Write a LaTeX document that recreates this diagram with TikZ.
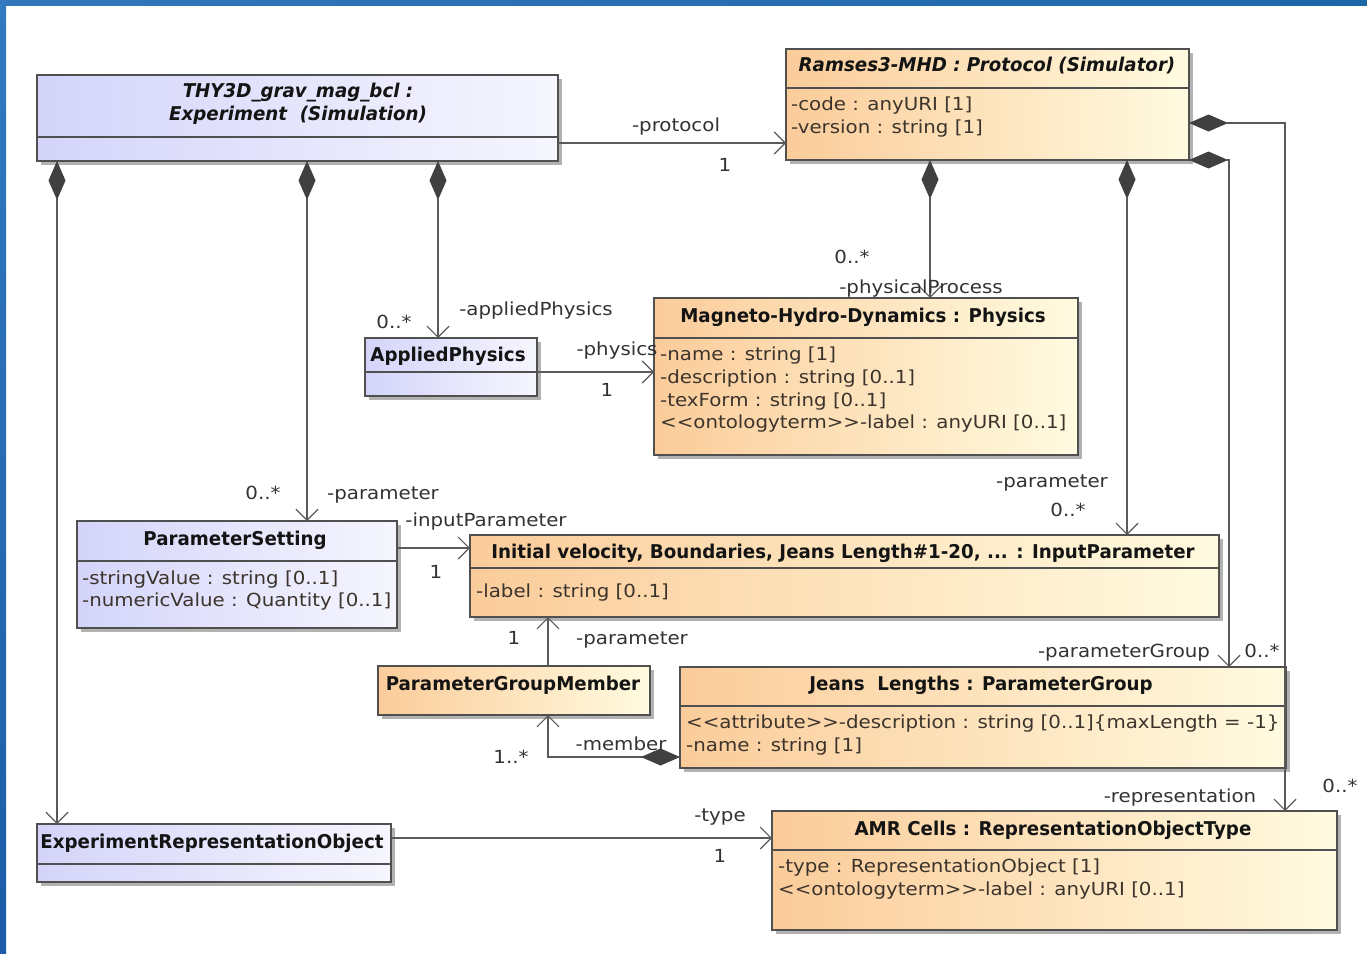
\documentclass[tikz,border=0pt]{standalone}
\usepackage{fontspec}
\setmainfont{DejaVu Sans}[FakeStretch=1.1]
\newfontfamily\ttlfont{DejaVu Sans}[FakeStretch=0.96]
\usetikzlibrary{arrows.meta}
\definecolor{lavL}{RGB}{212,212,250}
\definecolor{lavR}{RGB}{246,246,254}
\definecolor{orL}{RGB}{251,204,154}
\definecolor{orR}{RGB}{255,251,224}
\definecolor{boxc}{RGB}{80,80,80}
\definecolor{shadc}{RGB}{178,178,178}
\definecolor{linec}{RGB}{90,90,90}
\definecolor{diac}{RGB}{64,64,64}
\definecolor{ttlc}{RGB}{20,20,20}
\definecolor{attrc}{RGB}{60,52,44}
\definecolor{lblc}{RGB}{50,50,50}
\definecolor{frA}{RGB}{52,118,186}
\definecolor{frB}{RGB}{42,160,222}
\definecolor{frC}{RGB}{28,104,166}
\definecolor{frT}{RGB}{50,122,190}
\definecolor{frD}{RGB}{28,92,168}
\newcommand\lguil{<\kern0pt<}
\newcommand\rguil{>\kern0pt>}
\newcommand\umlbox[6]{%
  \fill[shadc] (#2+4,#3+4) rectangle (#4+4,#5+4);
  \node[#6, minimum width={#4pt-#2pt}, minimum height={#5pt-#3pt}, inner sep=0pt, outer sep=0pt] (#1) at ({(#2+#4)/2},{(#3+#5)/2}) {};
}
\tikzset{
  boxl/.style={draw=boxc, line width=1.3pt},
  lav/.style={boxl, left color=lavL, right color=lavR},
  org/.style={boxl, left color=orL, right color=orR},
  divl/.style={draw=boxc, line width=1.3pt},
  ttl/.style={font=\fontsize{19}{23}\selectfont\ttlfont\bfseries, text=ttlc, yshift=-2pt},
  ittl/.style={font=\fontsize{19}{23}\selectfont\ttlfont\bfseries\itshape, text=ttlc, yshift=-1pt},
  attr/.style={anchor=west, text=attrc, text height=15pt, text depth=2pt},
  lbl/.style={text=lblc, text height=15pt, text depth=2pt},
  assoc/.style={draw=linec, line width=1.2pt, -{Straight Barb[length=11pt,width=22pt]}},
  comp/.style={draw=linec, line width=1.2pt, {Diamond[length=39pt,width=17pt,color=diac,fill=diac]}-{Straight Barb[length=11pt,width=22pt]}},
}
\begin{document}
\begin{tikzpicture}[x=1pt,y=-1pt, every node/.style={font=\fontsize{18}{23}\selectfont, inner sep=0pt}]
\useasboundingbox (0,0) rectangle (1367,953);
\fill[white] (0,0) rectangle (1367,953);
% frame
\shade[left color=frA, middle color=frB, right color=frC] (0,0) rectangle (1367,5);
\shade[top color=frT, bottom color=frD] (0,0) rectangle (6,953);

% boxes
\umlbox{exp}{37}{75}{558}{161}{lav}
\draw[divl] (37,137) -- (558,137);
\umlbox{proto}{786}{49}{1189}{160}{org}
\draw[divl] (786,88) -- (1189,88);
\umlbox{ap}{365}{338}{537}{396}{lav}
\draw[divl] (365,372) -- (537,372);
\umlbox{phys}{654}{298}{1078}{455}{org}
\draw[divl] (654,338) -- (1078,338);
\umlbox{ps}{77}{521}{397}{628}{lav}
\draw[divl] (77,561) -- (397,561);
\umlbox{ip}{470}{535}{1219}{617}{org}
\draw[divl] (470,568) -- (1219,568);
\umlbox{pgm}{378}{666}{650}{715}{org}
\umlbox{pg}{680}{667}{1286}{768}{org}
\draw[divl] (680,706) -- (1286,706);
\umlbox{ero}{37}{824}{391}{882}{lav}
\draw[divl] (37,864) -- (391,864);
\umlbox{rot}{772}{811}{1337}{930}{org}
\draw[divl] (772,850) -- (1337,850);

% titles
\node[ittl, align=center] (expT) at (298,103) {THY3D\_grav\_mag\_bcl :\\Experiment\ \ (Simulation)};
\node[ittl] (protoT) at (987,65) {Ramses3-MHD : Protocol (Simulator)};
\node[ttl] (apT) at (448,354) {AppliedPhysics};
\node[ttl] (physT) at (863,315) {Magneto-Hydro-Dynamics : Physics};
\node[ttl] (psT) at (235,538) {ParameterSetting};
\node[ttl] (ipT) at (843,551) {Initial velocity, Boundaries, Jeans Length\#1-20, ... : InputParameter};
\node[ttl] (pgmT) at (513,683) {ParameterGroupMember};
\node[ttl] (pgT) at (981,683) {Jeans\ \ Lengths : ParameterGroup};
\node[ttl] (eroT) at (212,841) {ExperimentRepresentationObject};
\node[ttl] (rotT) at (1053,828) {AMR Cells : RepresentationObjectType};

% attributes
\node[attr] (protoA1) at (791,104) {-code : anyURI [1]};
\node[attr] (protoA2) at (791,127) {-version : string [1]};
\node[attr] (physA1) at (660,354) {-name : string [1]};
\node[attr] (physA2) at (660,377) {-description : string [0..1]};
\node[attr] (physA3) at (660,400) {-texForm : string [0..1]};
\node[attr] (physA4) at (660,422) {\lguil ontologyterm\rguil-label : anyURI [0..1]};
\node[attr] (psA1) at (82,578) {-stringValue : string [0..1]};
\node[attr] (psA2) at (82,600) {-numericValue : Quantity [0..1]};
\node[attr] (ipA1) at (476,591) {-label : string [0..1]};
\node[attr] (pgA1) at (686,722) {\lguil attribute\rguil-description : string [0..1]\{maxLength = -1\}};
\node[attr] (pgA2) at (686,745) {-name : string [1]};
\node[attr] (rotA1) at (778,866) {-type : RepresentationObject [1]};
\node[attr] (rotA2) at (778,889) {\lguil ontologyterm\rguil-label : anyURI [0..1]};

% connectors
\draw[assoc] (exp.east |- 0,143) -- (proto.west |- 0,143);
\draw[comp] (exp.south -| 57,0) -- (ero.north -| 57,0);
\draw[comp] (exp.south -| 307,0) -- (ps.north -| 307,0);
\draw[comp] (exp.south -| 438,0) -- (ap.north -| 438,0);
\draw[assoc] (ap.east |- 0,372) -- (phys.west |- 0,372);
\draw[comp] (proto.south -| 930,0) -- (phys.north -| 930,0);
\draw[comp] (proto.south -| 1127,0) -- (ip.north -| 1127,0);
\draw[comp] (proto.east |- 0,123) -| (rot.north -| 1285,0);
\draw[comp] (proto.south east) -| (pg.north -| 1229,0);
\draw[assoc] (ps.east |- 0,548) -- (ip.west |- 0,548);
\draw[assoc] (pgm.north -| 548,0) -- (ip.south -| 548,0);
\draw[comp] (pg.west |- 0,757) -| (pgm.south -| 548,0);
\draw[assoc] (ero.east |- 0,838) -- (rot.west |- 0,838);

% labels
\node[lbl] (l1) at (676,125) {-protocol};
\node[lbl] (l2) at (725,165) {1};
\node[lbl] (l3) at (263,493) {0..*};
\node[lbl] (l4) at (383,493) {-parameter};
\node[lbl] (l5) at (394,322) {0..*};
\node[lbl] (l6) at (536,309) {-appliedPhysics};
\node[lbl] (l7) at (617,349) {-physics};
\node[lbl] (l8) at (607,390) {1};
\node[lbl] (l9) at (852,257) {0..*};
\node[lbl] (l10) at (921,287) {-physicalProcess};
\node[lbl] (l11) at (1052,481) {-parameter};
\node[lbl] (l12) at (1068,510) {0..*};
\node[lbl] (l13) at (1180,796) {-representation};
\node[lbl] (l14) at (1340,786) {0..*};
\node[lbl] (l15) at (1124,651) {-parameterGroup};
\node[lbl] (l16) at (1262,651) {0..*};
\node[lbl] (l17) at (486,520) {-inputParameter};
\node[lbl] (l18) at (436,572) {1};
\node[lbl] (l19) at (514,638) {1};
\node[lbl] (l20) at (632,638) {-parameter};
\node[lbl] (l21) at (511,757) {1..*};
\node[lbl] (l22) at (621,744) {-member};
\node[lbl] (l23) at (720,815) {-type};
\node[lbl] (l24) at (720,856) {1};
\end{tikzpicture}
\end{document}
